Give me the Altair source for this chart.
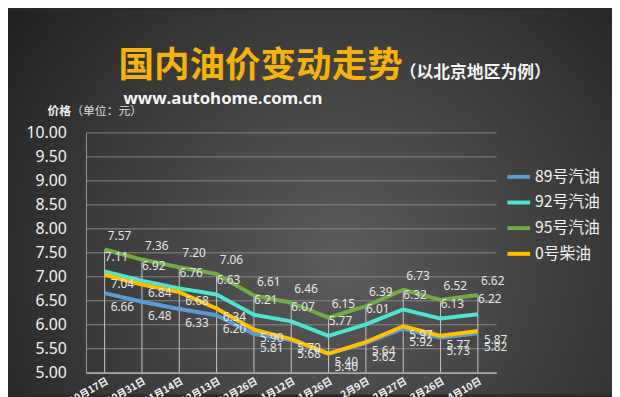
import altair as alt
import pandas as pd

dates = ["10月17日", "10月31日", "11月14日", "12月13日", "12月26日", "1月12日",
         "1月26日", "2月9日", "2月27日", "3月26日", "4月10日"]
p89 = [6.66, 6.48, 6.33, 6.20, 5.81, 5.68, 5.40, 5.62, 5.92, 5.73, 5.82]
p92 = [7.11, 6.92, 6.76, 6.63, 6.21, 6.07, 5.77, 6.01, 6.32, 6.13, 6.22]
p95 = [7.57, 7.36, 7.20, 7.06, 6.61, 6.46, 6.15, 6.39, 6.73, 6.52, 6.62]
p0 = [7.04, 6.84, 6.68, 6.34, 5.90, 5.70, 5.40, 5.64, 5.97, 5.77, 5.87]
series_names = ["89号汽油", "92号汽油", "95号汽油", "0号柴油"]
series_colors = ["#5b9bd5", "#4fe3d2", "#70ad47", "#ffc000"]
y_ticks = [5.0, 5.5, 6.0, 6.5, 7.0, 7.5, 8.0, 8.5, 9.0, 9.5, 10.0]

label_offsets = {"89号汽油": (18, 14), "92号汽油": (12, -15),
                 "95号汽油": (15, -14), "0号柴油": (18, 9)}

rows = []
for name, vals in zip(series_names, [p89, p92, p95, p0]):
    for d, v in zip(dates, vals):
        rows.append({"series": name, "date": d, "price": v})
df = pd.DataFrame(rows)
wide = pd.DataFrame({"date": dates, "p95": p95})
grid_df = pd.DataFrame({"y": y_ticks})
one = pd.DataFrame({"a": [0]})

W, H = 416, 243
PL, PT = 79, 124
TOTW, TOTH = 612, 389

xenc = alt.X("date:N", sort=dates, scale=alt.Scale(type="point", padding=0.5),
             axis=alt.Axis(title=None, labelAngle=330, labelAlign="right",
                           labelBaseline="top", labelFontSize=10, labelFontWeight="bold",
                           labelColor="#f0f0f0", labelFont="Noto Sans CJK SC",
                           labelPadding=3, labelOverlap=False, ticks=False,
                           domainColor="#a8a8a8", domainWidth=1.5, zindex=2))
yscale = alt.Scale(domain=[5, 10], nice=False, zero=False)
yaxis = alt.Axis(title=None, values=y_ticks, format=".2f", labelFontSize=16,
                 labelColor="#f2f2f2", labelFont="Noto Sans", labelPadding=20,
                 labelOverlap=False, ticks=False, grid=False,
                 domainColor="#9a9a9a", zindex=2)


def yenc(field):
    return alt.Y(field, scale=yscale, axis=yaxis)


bg = alt.Chart(one).mark_rect(
    fill=alt.Gradient(gradient="radial",
                      stops=[alt.GradientStop(color="#5c5c5c", offset=0),
                             alt.GradientStop(color="#3a3a3a", offset=0.55),
                             alt.GradientStop(color="#1c1c1c", offset=1)],
                      x1=0.55, y1=0.6, r1=0, x2=0.55, y2=0.6, r2=0.75)
).encode(x=alt.value(-PL), x2=alt.value(TOTW - PL),
         y=alt.value(-PT), y2=alt.value(TOTH - PT))

grid = alt.Chart(grid_df).mark_rule(color="#8a8a8a", strokeWidth=1).encode(
    y=yenc("y:Q"), x=alt.value(0), x2=alt.value(W))

drops = alt.Chart(wide).mark_rule(color="#c8c8c8", strokeWidth=1).encode(
    x=xenc, y=yenc("p95:Q"), y2=alt.datum(5))

lines = alt.Chart(df).mark_line(strokeWidth=4, strokeJoin="round").encode(
    x=xenc,
    y=yenc("price:Q"),
    color=alt.Color("series:N", sort=series_names,
                    scale=alt.Scale(domain=series_names, range=series_colors),
                    legend=alt.Legend(title=None, orient="none", legendX=425, legendY=31,
                                      symbolType="stroke", symbolStrokeWidth=4,
                                      symbolSize=529, rowPadding=4, labelOffset=3,
                                      labelFontSize=16, labelColor="#f2f2f2",
                                      labelFont="Noto Sans CJK SC", padding=0, zindex=2)),
    order=alt.Order("series:N"),
)

label_layers = []
for name in series_names:
    dx, dy = label_offsets[name]
    label_layers.append(
        alt.Chart(df).transform_filter(alt.datum.series == name).mark_text(
            dx=dx, dy=dy, fontSize=12, color="#e6e6e6", font="Noto Sans", align="center",
            baseline="middle"
        ).encode(x=xenc, y=yenc("price:Q"),
                 text=alt.Text("price:Q", format=".2f"))
    )

title = alt.Chart(one).mark_text(
    text="国内油价变动走势", fontSize=36, fontWeight="bold", color="#f5b20a",
    font="Noto Sans CJK SC", align="left", baseline="middle"
).encode(x=alt.value(33), y=alt.value(-68))
subtitle = alt.Chart(one).mark_text(
    text="（以北京地区为例）", fontSize=17, fontWeight="bold", color="#f2f2f2",
    font="Noto Sans CJK SC", align="left", baseline="middle"
).encode(x=alt.value(318), y=alt.value(-61))
url = alt.Chart(one).mark_text(
    text="www.autohome.com.cn", fontSize=17, fontWeight="bold", color="#f5f5f5",
    font="Open Sans", align="left", baseline="middle"
).encode(x=alt.value(38), y=alt.value(-34))
unit1 = alt.Chart(one).mark_text(
    text="价格", fontSize=12, fontWeight="bold", color="#f0f0f0",
    font="Noto Sans CJK SC", align="left", baseline="middle"
).encode(x=alt.value(-39), y=alt.value(-22))
unit2 = alt.Chart(one).mark_text(
    text="（单位：元）", fontSize=12, color="#e0e0e0",
    font="Noto Sans CJK SC", align="left", baseline="middle"
).encode(x=alt.value(-15), y=alt.value(-22))

chart = alt.layer(bg, grid, drops, lines, *label_layers, title, subtitle, url, unit1, unit2).properties(
    width=W, height=H,
    autosize=alt.AutoSizeParams(type="none"),
    padding={"left": PL, "top": PT, "right": TOTW - PL - W, "bottom": TOTH - PT - H},
    background="#2a2a2a",
).configure_view(stroke=None)

chart.save("out.html", embed_options={"renderer": "svg", "actions": False})
